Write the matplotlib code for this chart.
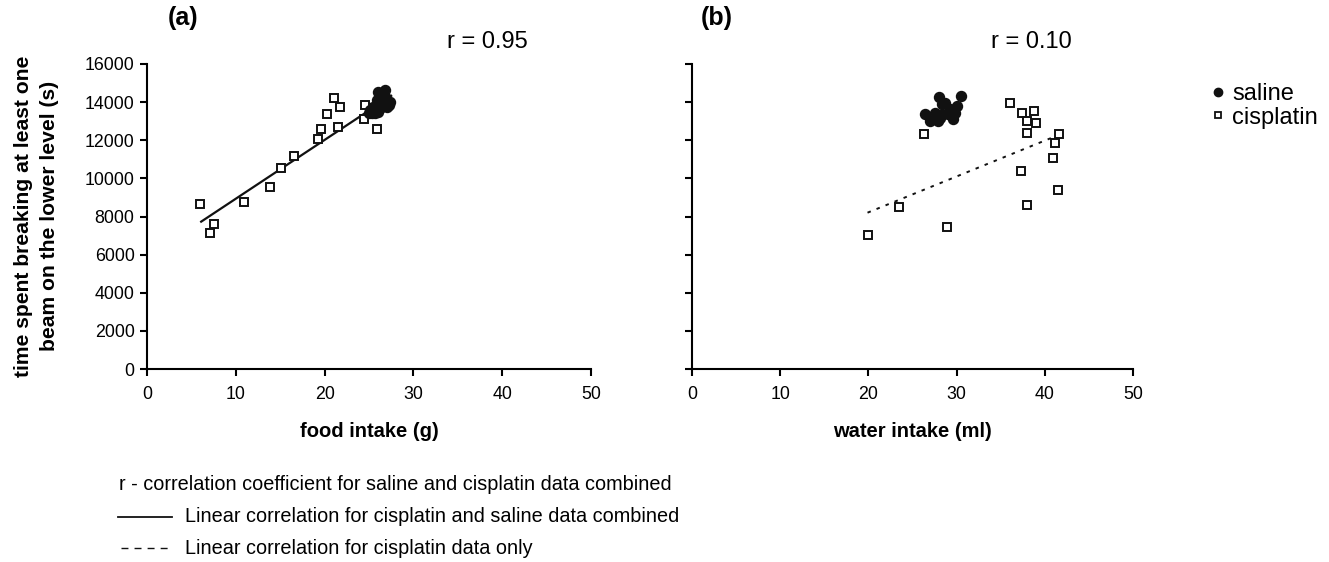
import matplotlib
matplotlib.use("Agg")
import matplotlib.pyplot as plt
from matplotlib.lines import Line2D

plt.rcParams['font.family'] = ['Liberation Sans', 'DejaVu Sans']

# ---- data (a) food intake ----
a_sal_x = [26.05, 26.8, 26.4, 27.4, 27.2, 25.9, 25.5, 25.1, 25.7, 26.2, 26.6, 25.3, 26.05, 26.9, 27.0, 25.0, 26.4]
a_sal_y = [14550, 14620, 14280, 14020, 13850, 14110, 13760, 13590, 13410, 13680, 13940, 13410, 13500, 14230, 13730, 13410, 13770]
a_cis_x = [6.0, 7.5, 7.1, 10.9, 13.8, 15.1, 16.5, 19.3, 19.6, 20.3, 21.1, 21.7, 21.5, 24.4, 24.6, 25.9]
a_cis_y = [8670, 7590, 7120, 8760, 9550, 10530, 11190, 12070, 12570, 13360, 14230, 13740, 12680, 13130, 13830, 12570]
a_fit_x = [6.1, 27.5]
a_fit_y = [7730, 14330]

# ---- data (b) water intake ----
b_sal_x = [28.0, 30.5, 28.7, 28.3, 30.1, 29.25, 26.45, 27.5, 28.3, 29.05, 29.8, 27.0, 27.9, 29.6, 28.1]
b_sal_y = [14250, 14340, 13970, 13880, 13800, 13620, 13360, 13450, 13360, 13360, 13410, 13010, 13010, 13100, 13150]
b_cis_x = [20.0, 23.5, 28.9, 26.3, 36.05, 37.45, 38.8, 38.0, 39.0, 38.0, 41.6, 41.1, 40.9, 37.3, 41.5, 38.0]
b_cis_y = [7030, 8515, 7465, 12310, 13970, 13450, 13530, 13010, 12920, 12400, 12310, 11860, 11070, 10370, 9410, 8600]
b_fit_x = [19.9, 41.0]
b_fit_y = [8200, 12170]

xticks = [0, 10, 20, 30, 40, 50]
yticks = [0, 2000, 4000, 6000, 8000, 10000, 12000, 14000, 16000]

W, H = 1329, 562
fig = plt.figure(figsize=(W / 100, H / 100), dpi=100)

def px_axes(x0, x1, y_top, y_bot):
    return fig.add_axes([x0 / W, 1 - y_bot / H, (x1 - x0) / W, (y_bot - y_top) / H])

axa = px_axes(147, 591, 64, 369)
axb = px_axes(692, 1133, 64, 369)

for ax in (axa, axb):
    ax.set_xlim(0, 50)
    ax.set_ylim(0, 16000)
    ax.set_xticks(xticks)
    ax.set_yticks(yticks)
    for s in ('top', 'right'):
        ax.spines[s].set_visible(False)
    for s in ('left', 'bottom'):
        ax.spines[s].set_linewidth(1.5)
    ax.tick_params(direction='out', length=5, width=1.5, labelsize=12.8, pad=4)
    ax.tick_params(axis='x', pad=7)

axa.set_yticklabels([str(v) for v in yticks])
axb.set_yticklabels([])

sq_kw = dict(marker='s', linestyle='none', markersize=5.2, markerfacecolor='white',
             markeredgecolor='#111111', markeredgewidth=1.4, clip_on=False)
ci_kw = dict(marker='o', linestyle='none', markersize=7.2, markerfacecolor='#111111',
             markeredgecolor='#111111', clip_on=False)

axa.plot(a_fit_x, a_fit_y, color='#111111', lw=1.6, zorder=2)
axa.plot(a_cis_x, a_cis_y, zorder=3, **sq_kw)
axa.plot(a_sal_x, a_sal_y, zorder=4, **ci_kw)

axb.plot(b_fit_x, b_fit_y, color='#111111', lw=1.4, linestyle=(0, (1.8, 3.2)), zorder=2)
axb.plot(b_cis_x, b_cis_y, zorder=3, **sq_kw)
axb.plot(b_sal_x, b_sal_y, zorder=4, **ci_kw)

axa.set_xlabel('food intake (g)', fontsize=14.5, fontweight='bold', labelpad=14)
axb.set_xlabel('water intake (ml)', fontsize=14.5, fontweight='bold', labelpad=14)

fig.text(36.5 / W, 1 - 216 / H, 'time spent breaking at least one\nbeam on the lower level (s)',
         rotation=90, ha='center', va='center', multialignment='center',
         fontsize=15.2, fontweight='bold', linespacing=1.45)

fig.text(183 / W, 1 - 18 / H, '(a)', ha='center', va='center', fontsize=18, fontweight='bold')
fig.text(717 / W, 1 - 18 / H, '(b)', ha='center', va='center', fontsize=18, fontweight='bold')

fig.text(487 / W, 1 - 42 / H, 'r = 0.95', ha='center', va='center', fontsize=17)
fig.text(1031 / W, 1 - 42 / H, 'r = 0.10', ha='center', va='center', fontsize=17)

# legend (saline / cisplatin)
handles = [Line2D([], [], marker='o', linestyle='none', markersize=6, markerfacecolor='#111111',
                  markeredgecolor='#111111'),
           Line2D([], [], marker='s', linestyle='none', markersize=5, markerfacecolor='white',
                  markeredgecolor='#111111', markeredgewidth=1.3)]
fig.legend(handles, ['saline', 'cisplatin'], loc='center left',
           bbox_to_anchor=(1211 / W, 1 - 106 / H), frameon=False, fontsize=17,
           handlelength=0.6, handletextpad=0.3, labelspacing=0.05, borderpad=0, borderaxespad=0)

# footnotes
fig.text(119 / W, 1 - 485 / H, 'r - correlation coefficient for saline and cisplatin data combined',
         ha='left', va='center', fontsize=14.3)
fig.text(185 / W, 1 - 517 / H, 'Linear correlation for cisplatin and saline data combined',
         ha='left', va='center', fontsize=14.3)
fig.text(185 / W, 1 - 548 / H, 'Linear correlation for cisplatin data only',
         ha='left', va='center', fontsize=14.3)
fig.add_artist(Line2D([118 / W, 172 / W], [1 - 517 / H, 1 - 517 / H], color='#111111', lw=1.3))
fig.add_artist(Line2D([121 / W, 172 / W], [1 - 548 / H, 1 - 548 / H], color='#111111', lw=1.0,
                      linestyle=(0, (5, 4.4))))

fig.savefig('out.png', dpi=100)
